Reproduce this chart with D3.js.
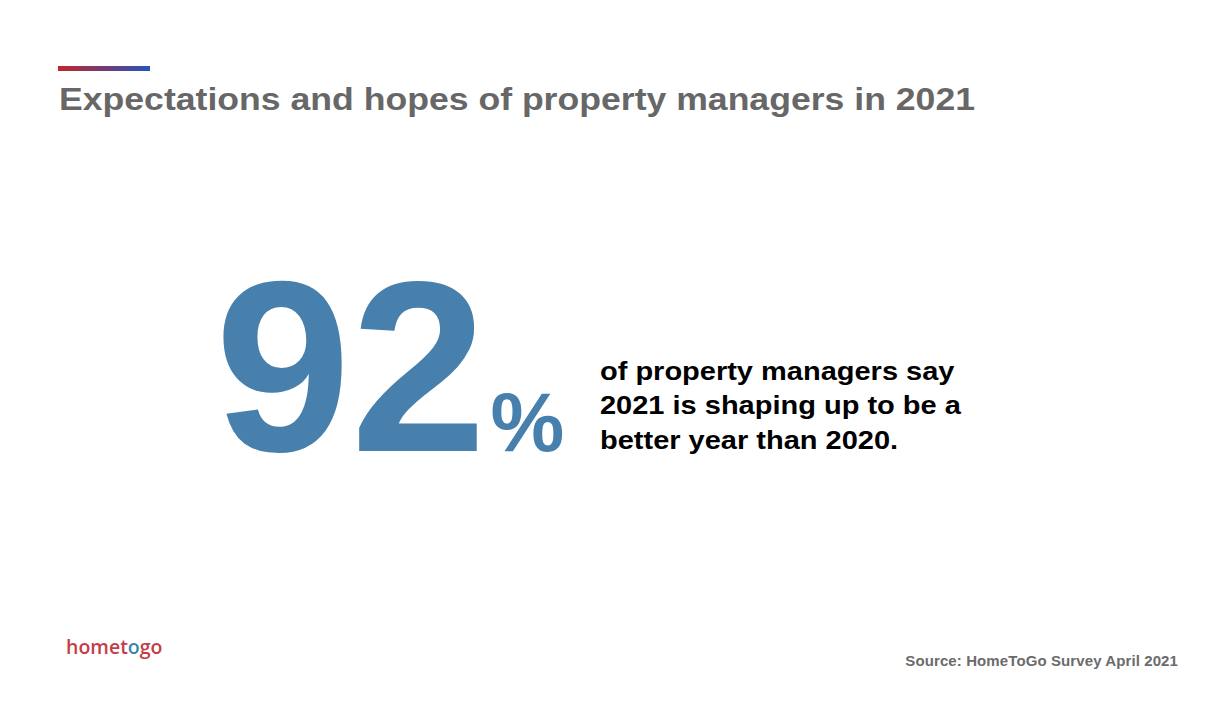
<!DOCTYPE html>
<html><head><meta charset="utf-8">
<script src="https://cdn.jsdelivr.net/npm/d3@7"></script>
<style>html,body{margin:0;padding:0;background:#fff;}svg{display:block;}</style>
</head><body>
<svg id="chart" width="1210" height="720"></svg>
<script>
const title = "Expectations and hopes of property managers in 2021";
const statValue = 92;
const statUnit = "%";
const statLines = ["of property managers say", "2021 is shaping up to be a", "better year than 2020."];
const sourceText = "Source: HomeToGo Survey April 2021";
const logoParts = [["home","#c43d46"],["t","#c43d46"],["o","#3a86aa"],["go","#c43d46"]];

const svg = d3.select("#chart");
const font = "'Liberation Sans', Arial, Helvetica, sans-serif";

const defs = svg.append("defs");
const g = defs.append("linearGradient").attr("id","bar");
g.append("stop").attr("offset","0%").attr("stop-color","#c0262b");
g.append("stop").attr("offset","100%").attr("stop-color","#2752be");
svg.append("rect").attr("x",58).attr("y",66).attr("width",92).attr("height",5).attr("fill","url(#bar)");

svg.append("text").attr("x",59).attr("y",110).attr("font-family",font).attr("font-weight","bold")
  .attr("font-size",31).attr("fill","#676767")
  .attr("textLength",916).attr("lengthAdjust","spacingAndGlyphs").text(title);

// Big stat
const big = svg.append("text").attr("x",215).attr("y",451).attr("font-family",font).attr("font-weight","bold").attr("fill","#4780ad");
big.append("tspan").attr("font-size",244).text(String(statValue));
big.append("tspan").attr("font-size",83).attr("dx",4).text(statUnit);

svg.append("g").attr("transform","translate(600,0) scale(1.16,1)")
  .selectAll("text").data(statLines).join("text")
  .attr("x",0).attr("y",(d,i)=>380+i*34.5)
  .attr("font-family",font).attr("font-weight","bold").attr("font-size",25).attr("fill","#000")
  .text(d=>d);

svg.append("text").attr("x",1178).attr("y",666).attr("text-anchor","end").attr("font-family",font)
  .attr("font-weight","bold").attr("font-size",15).attr("fill","#6b6b6b")
  .attr("letter-spacing",0.1).text(sourceText);

const logo = svg.append("text").attr("x",66).attr("y",654).attr("font-family","'Open Sans', Lato, sans-serif")
  .attr("font-weight","600").attr("font-size",19.5);
logo.selectAll("tspan").data(logoParts).join("tspan").attr("fill",d=>d[1]).text(d=>d[0]);
</script>
</body></html>
